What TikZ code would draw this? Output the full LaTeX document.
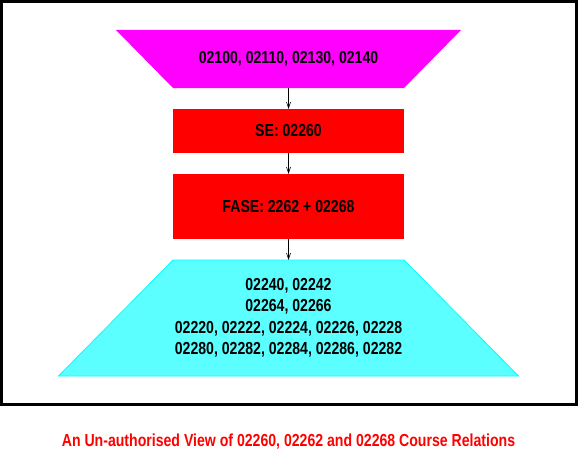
\documentclass[tikz,border=0pt]{standalone}
\usepackage{fontspec}
\newfontfamily\lblfont[FakeStretch=0.81]{Liberation Sans}
\usetikzlibrary{positioning,arrows.meta,backgrounds}
\definecolor{boxmagenta}{RGB}{255,0,255}
\definecolor{boxred}{RGB}{255,0,0}
\definecolor{boxcyan}{RGB}{92,255,255}
\definecolor{edgecyan}{RGB}{0,255,255}

\begin{document}
\begin{tikzpicture}[x=1pt,y=1pt,
  every node/.style={font=\lblfont\bfseries\fontsize{17.4}{21.5}\selectfont,
    inner sep=0pt, outer sep=0pt},
  course/.style={minimum width=231pt},
  link/.style={-{Straight Barb[length=6pt,width=4pt]}, line width=0.6pt},
  node distance=21pt]
  \useasboundingbox (0,0) rectangle (578,451);

  % frame round the courses
  \draw[line width=3pt] (1.5,47) rectangle (576.5,449.5);

  % the courses, top to bottom
  \node[course, minimum height=58pt] (base) at (288.5,392)
    {02100, 02110, 02130, 02140};
  \node[course, fill=boxred, minimum height=44pt, below=of base] (se) {SE: 02260};
  \node[course, fill=boxred, minimum height=65pt, below=of se] (fase) {FASE: 2262 + 02268};
  \node[course, minimum height=116pt, below=of fase, align=center] (later)
    {02240, 02242\\02264, 02266\\02220, 02222, 02224, 02226, 02228\\02280, 02282, 02284, 02286, 02282};

  % funnels behind the first and last courses
  \begin{scope}[on background layer]
    \fill[boxmagenta] ([xshift=-57pt]base.north west) -- ([xshift=57pt]base.north east)
      -- (base.south east) -- (base.south west) -- cycle;
    \filldraw[fill=boxcyan, draw=edgecyan, line width=0.8pt]
      (later.north west) -- (later.north east)
      -- ([xshift=114.5pt]later.south east) -- ([xshift=-114.5pt]later.south west) -- cycle;
  \end{scope}

  % the relations
  \draw[link] (base) -- (se);
  \draw[link] (se) -- (fase);
  \draw[link] (fase) -- (later);

  % caption
  \node[text=boxred] (caption) at (288.5,9)
    {An Un-authorised View of 02260, 02262 and 02268 Course Relations};
\end{tikzpicture}
\end{document}
